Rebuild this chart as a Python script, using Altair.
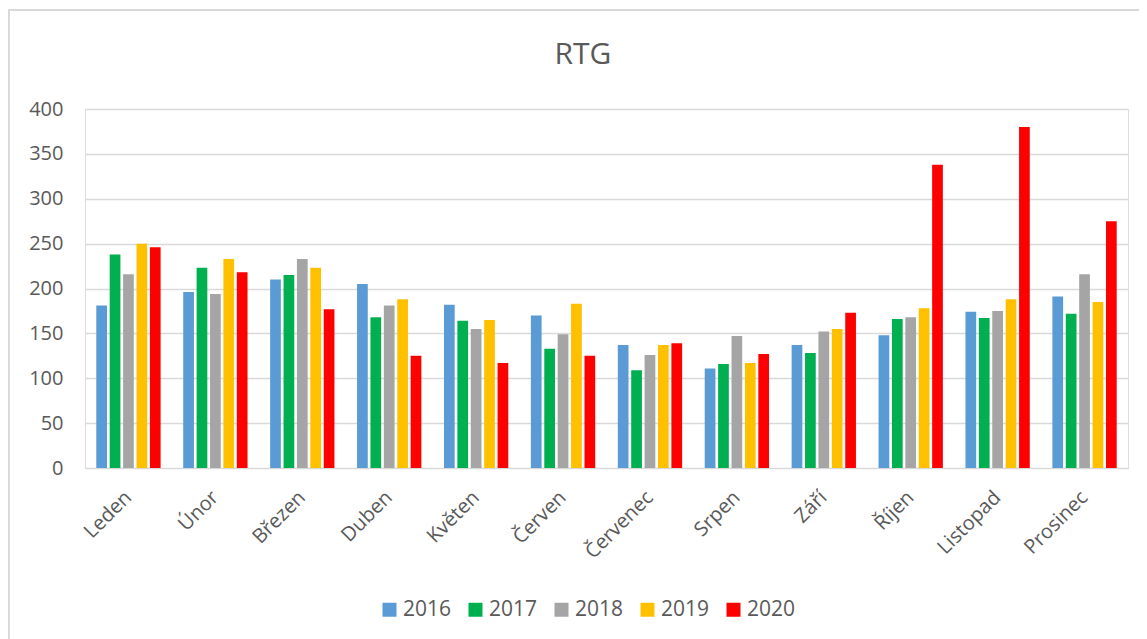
import altair as alt
import pandas as pd

months = ["Leden", "Únor", "Březen", "Duben", "Květen", "Červen",
          "Červenec", "Srpen", "Září", "Říjen", "Listopad", "Prosinec"]
years = ["2016", "2017", "2018", "2019", "2020"]
colors = ["#5B9BD5", "#00B050", "#A5A5A5", "#FFC000", "#FF0000"]

v2016 = [181, 196, 210, 205, 182, 170, 137, 111, 137, 148, 174, 191]
v2017 = [238, 223, 215, 168, 164, 133, 109, 116, 128, 166, 167, 172]
v2018 = [216, 194, 233, 181, 155, 149, 126, 147, 152, 168, 175, 216]
v2019 = [250, 233, 223, 188, 165, 183, 137, 117, 155, 178, 188, 185]
v2020 = [246, 218, 177, 125, 117, 125, 139, 127, 173, 338, 380, 275]

title_text = ["RTG"]

series = [v2016, v2017, v2018, v2019, v2020]
rows = []
for y, vals in zip(years, series):
    for m, v in zip(months, vals):
        rows.append({"month": m, "year": y, "value": v})
df = pd.DataFrame(rows)

FONT = "Open Sans"
GRAY = "#595959"

bars = alt.Chart(df).mark_bar().encode(
    x=alt.X("month:N", sort=months, title=None,
            scale=alt.Scale(paddingInner=0.26, paddingOuter=0.13),
            axis=alt.Axis(labelAngle=-45, labelAlign="right", labelBaseline="middle",
                          labelFontSize=20, labelColor=GRAY, labelFont=FONT,
                          labelPadding=26, ticks=False, domain=False, grid=False)),
    xOffset=alt.XOffset("year:N", sort=years, scale=alt.Scale(paddingInner=0.2)),
    y=alt.Y("value:Q", title=None,
            scale=alt.Scale(domain=[0, 400]),
            axis=alt.Axis(values=[0, 50, 100, 150, 200, 250, 300, 350, 400],
                          labelFontSize=20, labelColor=GRAY, labelFont=FONT,
                          labelPadding=22, ticks=False, domain=False,
                          grid=True, gridColor="#D9D9D9", gridWidth=1.5)),
    color=alt.Color("year:N", sort=years,
                    scale=alt.Scale(domain=years, range=colors),
                    legend=alt.Legend(title=None, orient="none", direction="horizontal",
                                      legendX=294, legendY=490,
                                      symbolType="square", symbolSize=196,
                                      symbolStrokeWidth=0, labelFontSize=21,
                                      labelColor=GRAY, labelFont=FONT,
                                      labelOffset=3, columnPadding=13)),
)

frame = alt.Chart(df).mark_rect(fill=None, stroke="#D9D9D9", strokeWidth=1.5).encode(
    x=alt.value(-76), x2=alt.value(1200), y=alt.value(-99), y2=alt.value(700)
)

title = alt.Chart(pd.DataFrame({"t": title_text})).mark_text(
    font=FONT, fontSize=30, color=GRAY, align="center", baseline="middle"
).encode(text="t:N", x=alt.value(498), y=alt.value(-54))

chart = alt.layer(frame, bars, title).properties(
    width=1043,
    height=359,
    autosize=alt.AutoSizeParams(type="none"),
    padding={"left": 77, "top": 101, "right": 11, "bottom": 171},
).configure_view(stroke=None).configure(background="white")

chart.save("out.html", embed_options={"renderer": "svg", "actions": False})
